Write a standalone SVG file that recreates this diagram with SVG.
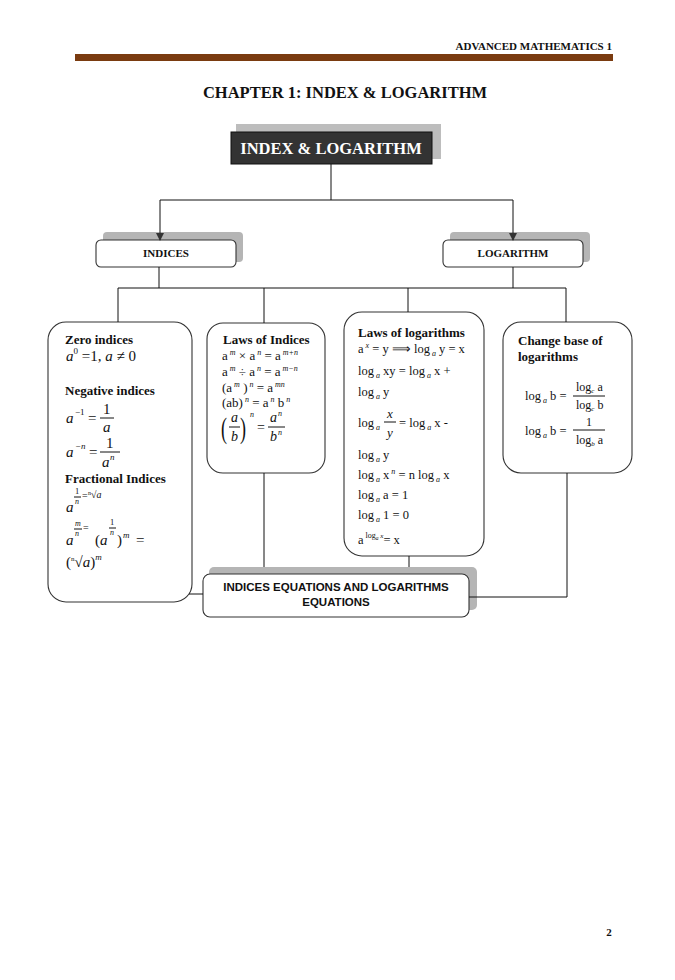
<svg xmlns="http://www.w3.org/2000/svg" width="675" height="980" viewBox="0 0 675 980">
<defs>
<marker id="arr" markerWidth="8" markerHeight="8" refX="7" refY="4" orient="auto" markerUnits="userSpaceOnUse">
<path d="M0,0 L8,4 L0,8 z" fill="#333"/>
</marker>
<style>
.s{font-family:"Liberation Serif","Times New Roman",serif;fill:#111}
.b{font-weight:bold}
.i{font-style:italic}
.box{fill:#fff;stroke:#333;stroke-width:1.1}
.sh{fill:#b5b5b5}
.ln{stroke:#111;stroke-width:1;fill:none}
.sup{font-size:8px;font-style:italic}
.sub{font-size:8px;font-style:italic}
</style>
</defs>
<rect width="675" height="980" fill="#fff"/>

<g id="header">
<text class="s b" x="612" y="50" font-size="11" text-anchor="end">ADVANCED MATHEMATICS 1</text>
<rect x="75" y="54" width="538" height="7" fill="#7a3b10"/>
<text class="s b" x="345" y="98" font-size="16.5" text-anchor="middle">CHAPTER 1: INDEX &amp; LOGARITHM</text>
</g>

<g id="top">
<rect x="236" y="124" width="205" height="35" fill="#bdbdbd"/>
<rect x="231" y="132" width="201" height="32" fill="#333" stroke="#111" stroke-width="1"/>
<text class="s b" x="331" y="154" font-size="16.5" style="fill:#fff" text-anchor="middle">INDEX &amp; LOGARITHM</text>
</g>

<g id="indices">
<rect class="sh" x="103" y="232" width="140" height="30" rx="4"/>
<rect class="box" x="96" y="240" width="140" height="27" rx="5"/>
<text class="s b" x="166" y="257" font-size="11" text-anchor="middle">INDICES</text>
</g>

<g id="logarithm">
<rect class="sh" x="450" y="232" width="140" height="30" rx="4"/>
<rect class="box" x="443" y="240" width="140" height="27" rx="5"/>
<text class="s b" x="513" y="257" font-size="11" text-anchor="middle">LOGARITHM</text>
</g>

<g id="box-indices-types">
<rect class="box" x="48" y="322" width="144" height="280" rx="18"/>
<text class="s b" x="65" y="344" font-size="13">Zero indices</text>
<text class="s" x="66" y="361" font-size="15"><tspan class="i">a</tspan><tspan font-size="9" dy="-7">0</tspan><tspan dy="7"> =1, </tspan><tspan class="i">a</tspan> ≠ 0</text>

<text class="s b" x="65" y="395" font-size="13">Negative indices</text>
<text class="s i" x="66" y="423" font-size="15">a</text>
<text class="s" x="75" y="415" font-size="9">−1</text>
<text class="s" x="88" y="423" font-size="15">=</text>
<text class="s" x="103" y="414" font-size="15">1</text>
<line class="ln" x1="100" y1="418" x2="114" y2="418"/>
<text class="s i" x="103" y="432" font-size="15">a</text>

<text class="s i" x="66" y="457" font-size="15">a</text>
<text class="s i" x="75" y="449" font-size="9">−n</text>
<text class="s" x="89" y="457" font-size="15">=</text>
<text class="s" x="106" y="448" font-size="15">1</text>
<line class="ln" x1="100" y1="452" x2="120" y2="452"/>
<text class="s i" x="102" y="467" font-size="15">a</text>
<text class="s i" x="110" y="460" font-size="9">n</text>

<text class="s b" x="65" y="483" font-size="13">Fractional Indices</text>
<text class="s i" x="66" y="512" font-size="15">a</text>
<text class="s" x="75" y="494" font-size="8.5">1</text>
<line class="ln" x1="74" y1="497" x2="81" y2="497" stroke-width="0.7"/>
<text class="s i" x="75" y="504" font-size="8">n</text>
<text class="s" x="82" y="499" font-size="10">=</text>
<text class="s" x="88" y="498" font-size="10"><tspan font-size="6" dy="-3">n</tspan><tspan dy="3">√</tspan><tspan class="i">a</tspan></text>

<text class="s i" x="66" y="545" font-size="15">a</text>
<text class="s i" x="75" y="526" font-size="8">m</text>
<line class="ln" x1="74" y1="529" x2="82" y2="529" stroke-width="0.7"/>
<text class="s i" x="75" y="536" font-size="8">n</text>
<text class="s" x="83" y="531" font-size="10">=</text>
<text class="s" x="95" y="545" font-size="15">(<tspan class="i">a</tspan></text>
<text class="s" x="110" y="525" font-size="8.5">1</text>
<line class="ln" x1="109" y1="528" x2="116" y2="528" stroke-width="0.7"/>
<text class="s i" x="110" y="535" font-size="8">n</text>
<text class="s" x="117" y="545" font-size="15">)</text>
<text class="s i" x="123" y="538" font-size="9">m</text>
<text class="s" x="136" y="545" font-size="15">=</text>

<text class="s" x="66" y="567" font-size="15">(<tspan font-size="7" dy="-6">n</tspan><tspan dy="6">√</tspan><tspan class="i">a</tspan>)<tspan class="i" font-size="9" dy="-7">m</tspan></text>
</g>

<g id="box-laws-indices">
<rect class="box" x="207" y="323" width="118" height="150" rx="16"/>
<text class="s b" x="223" y="344" font-size="13">Laws of Indices</text>
<text class="s" x="222" y="360" font-size="13">a<tspan class="sup" dy="-5"> m</tspan><tspan dy="5"> × a</tspan><tspan class="sup" dy="-5"> n</tspan><tspan dy="5"> = a</tspan><tspan class="sup" dy="-5"> m+n</tspan></text>
<text class="s" x="222" y="376" font-size="13">a<tspan class="sup" dy="-5"> m</tspan><tspan dy="5">  ÷ a</tspan><tspan class="sup" dy="-5"> n</tspan><tspan dy="5"> = a</tspan><tspan class="sup" dy="-5"> m−n</tspan></text>
<text class="s" x="222" y="392" font-size="13">(a<tspan class="sup" dy="-5"> m</tspan><tspan dy="5"> )</tspan><tspan class="sup" dy="-5"> n</tspan><tspan dy="5"> = a</tspan><tspan class="sup" dy="-5"> mn</tspan></text>
<text class="s" x="222" y="407" font-size="13">(ab)<tspan class="sup" dy="-5"> n</tspan><tspan dy="5"> = a</tspan><tspan class="sup" dy="-5"> n</tspan><tspan dy="5"> b</tspan><tspan class="sup" dy="-5"> n</tspan></text>
<text class="s" x="221" y="438" font-size="30" transform="translate(221 438) scale(0.6 1) translate(-221 -438)">(</text>
<text class="s i" x="231" y="422" font-size="14">a</text>
<line class="ln" x1="229" y1="427" x2="240" y2="427"/>
<text class="s i" x="231" y="441" font-size="14">b</text>
<text class="s" x="240" y="438" font-size="30" transform="translate(240 438) scale(0.6 1) translate(-240 -438)">)</text>
<text class="s i" x="250" y="417" font-size="8">n</text>
<text class="s" x="257" y="432" font-size="14">=</text>
<text class="s i" x="270" y="422" font-size="14">a</text>
<text class="s i" x="278" y="416" font-size="8">n</text>
<line class="ln" x1="268" y1="427" x2="285" y2="427"/>
<text class="s i" x="270" y="441" font-size="14">b</text>
<text class="s i" x="278" y="435" font-size="8">n</text>
</g>

<g id="box-laws-log">
<rect class="box" x="344" y="312" width="140" height="244" rx="18"/>
<text class="s b" x="358" y="337" font-size="13">Laws of logarithms</text>
<text class="s" x="358" y="353" font-size="12.5">a<tspan class="sup" dy="-5"> x</tspan><tspan dy="5"> = y ⟹ log</tspan><tspan class="sub" dy="3"> a</tspan><tspan dy="-3"> y = x</tspan></text>
<text class="s" x="358" y="375" font-size="12.5">log<tspan class="sub" dy="3"> a</tspan><tspan dy="-3"> xy = log</tspan><tspan class="sub" dy="3"> a</tspan><tspan dy="-3"> x +</tspan></text>
<text class="s" x="358" y="396" font-size="12.5">log<tspan class="sub" dy="3"> a</tspan><tspan dy="-3"> y</tspan></text>
<text class="s" x="358" y="427" font-size="12.5">log<tspan class="sub" dy="3"> a</tspan></text>
<text class="s i" x="387" y="418" font-size="13">x</text>
<line class="ln" x1="384" y1="422" x2="396" y2="422"/>
<text class="s i" x="387" y="437" font-size="13">y</text>
<text class="s" x="399" y="427" font-size="12.5">= log<tspan class="sub" dy="3"> a</tspan><tspan dy="-3"> x -</tspan></text>
<text class="s" x="358" y="459" font-size="12.5">log<tspan class="sub" dy="3"> a</tspan><tspan dy="-3"> y</tspan></text>
<text class="s" x="358" y="479" font-size="12.5">log<tspan class="sub" dy="3"> a</tspan><tspan dy="-3"> x</tspan><tspan class="sup" dy="-5"> n</tspan><tspan dy="5">  = n log</tspan><tspan class="sub" dy="3"> a</tspan><tspan dy="-3"> x</tspan></text>
<text class="s" x="358" y="499" font-size="12.5">log<tspan class="sub" dy="3"> a</tspan><tspan dy="-3"> a = 1</tspan></text>
<text class="s" x="358" y="519" font-size="12.5">log<tspan class="sub" dy="3"> a</tspan><tspan dy="-3"> 1 = 0</tspan></text>
<text class="s" x="358" y="544" font-size="12.5">a<tspan font-size="8" dy="-6"> log</tspan><tspan font-size="5.5" class="i" dy="2">a</tspan><tspan font-size="7" class="i" dy="-2"> x</tspan><tspan dy="6">= x</tspan></text>
</g>

<g id="box-change-base">
<rect class="box" x="503" y="322" width="129" height="151" rx="18"/>
<text class="s b" x="518" y="345" font-size="13">Change base of</text>
<text class="s b" x="518" y="361" font-size="13">logarithms</text>
<text class="s" x="525" y="400" font-size="12.5">log<tspan class="sub" dy="3"> a</tspan><tspan dy="-3"> b =</tspan></text>
<text class="s" x="576" y="391" font-size="12">log<tspan font-size="7" class="i" dy="2">c</tspan><tspan dy="-2"> a</tspan></text>
<line class="ln" x1="573" y1="396" x2="605" y2="396"/>
<text class="s" x="576" y="409" font-size="12">log<tspan font-size="7" class="i" dy="2">c</tspan><tspan dy="-2"> b</tspan></text>
<text class="s" x="525" y="435" font-size="12.5">log<tspan class="sub" dy="3"> a</tspan><tspan dy="-3"> b =</tspan></text>
<text class="s" x="586" y="426" font-size="12">1</text>
<line class="ln" x1="573" y1="430" x2="605" y2="430"/>
<text class="s" x="576" y="444" font-size="12">log<tspan font-size="7" class="i" dy="2">b</tspan><tspan dy="-2"> a</tspan></text>
</g>

<g id="equations">
<rect class="sh" x="209" y="567" width="268" height="43" rx="5"/>
<rect class="box" x="203" y="574" width="266" height="43" rx="7"/>
<text x="336" y="591" font-family="'Liberation Sans',Arial,sans-serif" font-weight="bold" font-size="11.5" fill="#111" text-anchor="middle">INDICES EQUATIONS AND LOGARITHMS</text>
<text x="336" y="606" font-family="'Liberation Sans',Arial,sans-serif" font-weight="bold" font-size="11.5" fill="#111" text-anchor="middle">EQUATIONS</text>
</g>

<g id="connectors">
<line class="ln" x1="331" y1="164" x2="331" y2="200"/>
<line class="ln" x1="160" y1="200" x2="513" y2="200"/>
<line class="ln" x1="160" y1="200" x2="160" y2="240" marker-end="url(#arr)"/>
<line class="ln" x1="513" y1="200" x2="513" y2="240" marker-end="url(#arr)"/>
<line class="ln" x1="159" y1="267" x2="159" y2="288"/>
<line class="ln" x1="513" y1="267" x2="513" y2="288"/>
<line class="ln" x1="118" y1="288" x2="566" y2="288"/>
<line class="ln" x1="118" y1="288" x2="118" y2="322"/>
<line class="ln" x1="264" y1="288" x2="264" y2="323"/>
<line class="ln" x1="408" y1="288" x2="408" y2="312"/>
<line class="ln" x1="566" y1="288" x2="566" y2="322"/>
<line class="ln" x1="264" y1="473" x2="264" y2="567"/>
<line class="ln" x1="409" y1="556" x2="409" y2="567"/>
<line class="ln" x1="189" y1="594" x2="203" y2="594"/>
<polyline class="ln" points="469,597 567,597 567,473"/>
</g>

<text class="s b" x="609" y="936" font-size="11" text-anchor="middle">2</text>
</svg>
